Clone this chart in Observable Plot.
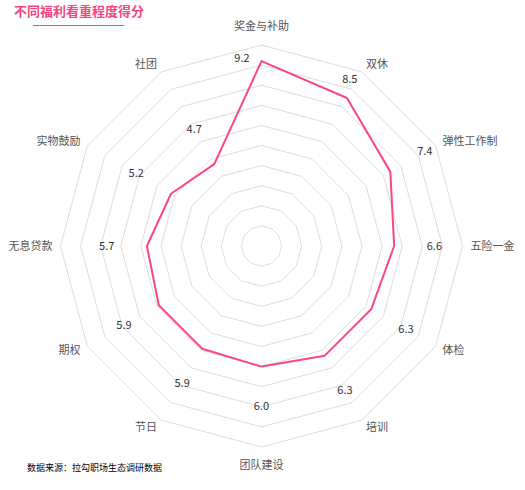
<!DOCTYPE html>
<html><head><meta charset="utf-8">
<script src="https://cdn.jsdelivr.net/npm/d3@7"></script>
<script src="https://cdn.jsdelivr.net/npm/@observablehq/plot@0.6"></script>
<style>
body{margin:0;background:#fff;font-family:"Noto Sans CJK SC","Noto Sans",sans-serif;}
#wrap{position:relative;width:525px;height:490px;}
#title{position:absolute;left:14px;top:2px;font-size:13px;font-weight:bold;color:#f6457f;line-height:18px;}
#uline{position:absolute;left:33px;top:25px;width:91px;height:1px;background:#f6457f;}
#source{position:absolute;left:27px;top:461px;font-size:9px;color:#000;line-height:14px;}
</style></head><body>
<div id="wrap"><div id="chart"></div><div id="title">不同福利看重程度得分</div><div id="uline"></div><div id="source">数据来源：拉勾职场生态调研数据</div></div>
<script>
const categories = ["奖金与补助","双休","弹性工作制","五险一金","体检","培训","团队建设","节日","期权","无息贷款","实物鼓励","社团"];
const scores = [9.2,8.5,7.4,6.6,6.3,6.3,6.0,5.9,5.9,5.7,5.2,4.7];
const scoreLabels = ["9.2","8.5","7.4","6.6","6.3","6.3","6.0","5.9","5.9","5.7","5.2","4.7"];
const ringLevels = [1,2,3,4,5,6,7,8,9,10];

const W = 525, H = 490, cx = 261, cy = 245.5, unit = 20.1;
const n = categories.length;
const ang = i => i * 2 * Math.PI / n;
const pol = (r, i) => ({x: r * Math.sin(ang(i)), y: r * Math.cos(ang(i))});

// grid rings
const rings = [];
ringLevels.forEach(k => { for (let i = 0; i <= n; i++) rings.push({...pol(k, i % n), k}); });

// data polygon
const series = [];
for (let i = 0; i <= n; i++) series.push(pol(scores[i % n], i % n));

// value labels: ~2 units outside the point, kept inside the outer ring
const nudgePx = {0: [-19.5, 1], 1: [-6, -3.5]};
const valueLab = scores.map((v, i) => {
  const p = pol(Math.min(v + 2, 9.38), i);
  const d = nudgePx[i] || [0, 0];
  return {x: p.x + d[0] / unit, y: p.y - d[1] / unit, t: scoreLabels[i]};
});

// category labels
const nameLab = categories.map((c, i) => {
  const s = Math.sin(ang(i));
  const side = s > 0.01 ? "start" : s < -0.01 ? "end" : "middle";
  const p = pol(side === "middle" ? 10.92 : 10.4, i);
  return {...p, t: c, side};
});

const chart = Plot.plot({
  width: W, height: H,
  marginTop: 0, marginBottom: 0, marginLeft: 0, marginRight: 0,
  x: {domain: [-cx / unit, (W - cx) / unit], range: [0, W], axis: null},
  y: {domain: [(cy - H) / unit, cy / unit], range: [H, 0], axis: null},
  style: {fontFamily: '"Noto Sans CJK SC","Noto Sans",sans-serif', background: "transparent"},
  marks: [
    Plot.line(rings, {x: "x", y: "y", z: "k", stroke: "#dddddd", strokeWidth: 1}),
    Plot.line(series, {x: "x", y: "y", stroke: "#f9468a", strokeWidth: 2, strokeLinejoin: "miter"}),
    Plot.text(valueLab, {x: "x", y: "y", text: "t", fontSize: 11, fill: "#333"}),
    ...["start", "end", "middle"].map(a => Plot.text(nameLab.filter(d => d.side === a), {x: "x", y: "y", text: "t", textAnchor: a, fontSize: 11, fill: "#555"}))
  ]
});
document.getElementById("chart").appendChild(chart);
</script>
</body></html>
